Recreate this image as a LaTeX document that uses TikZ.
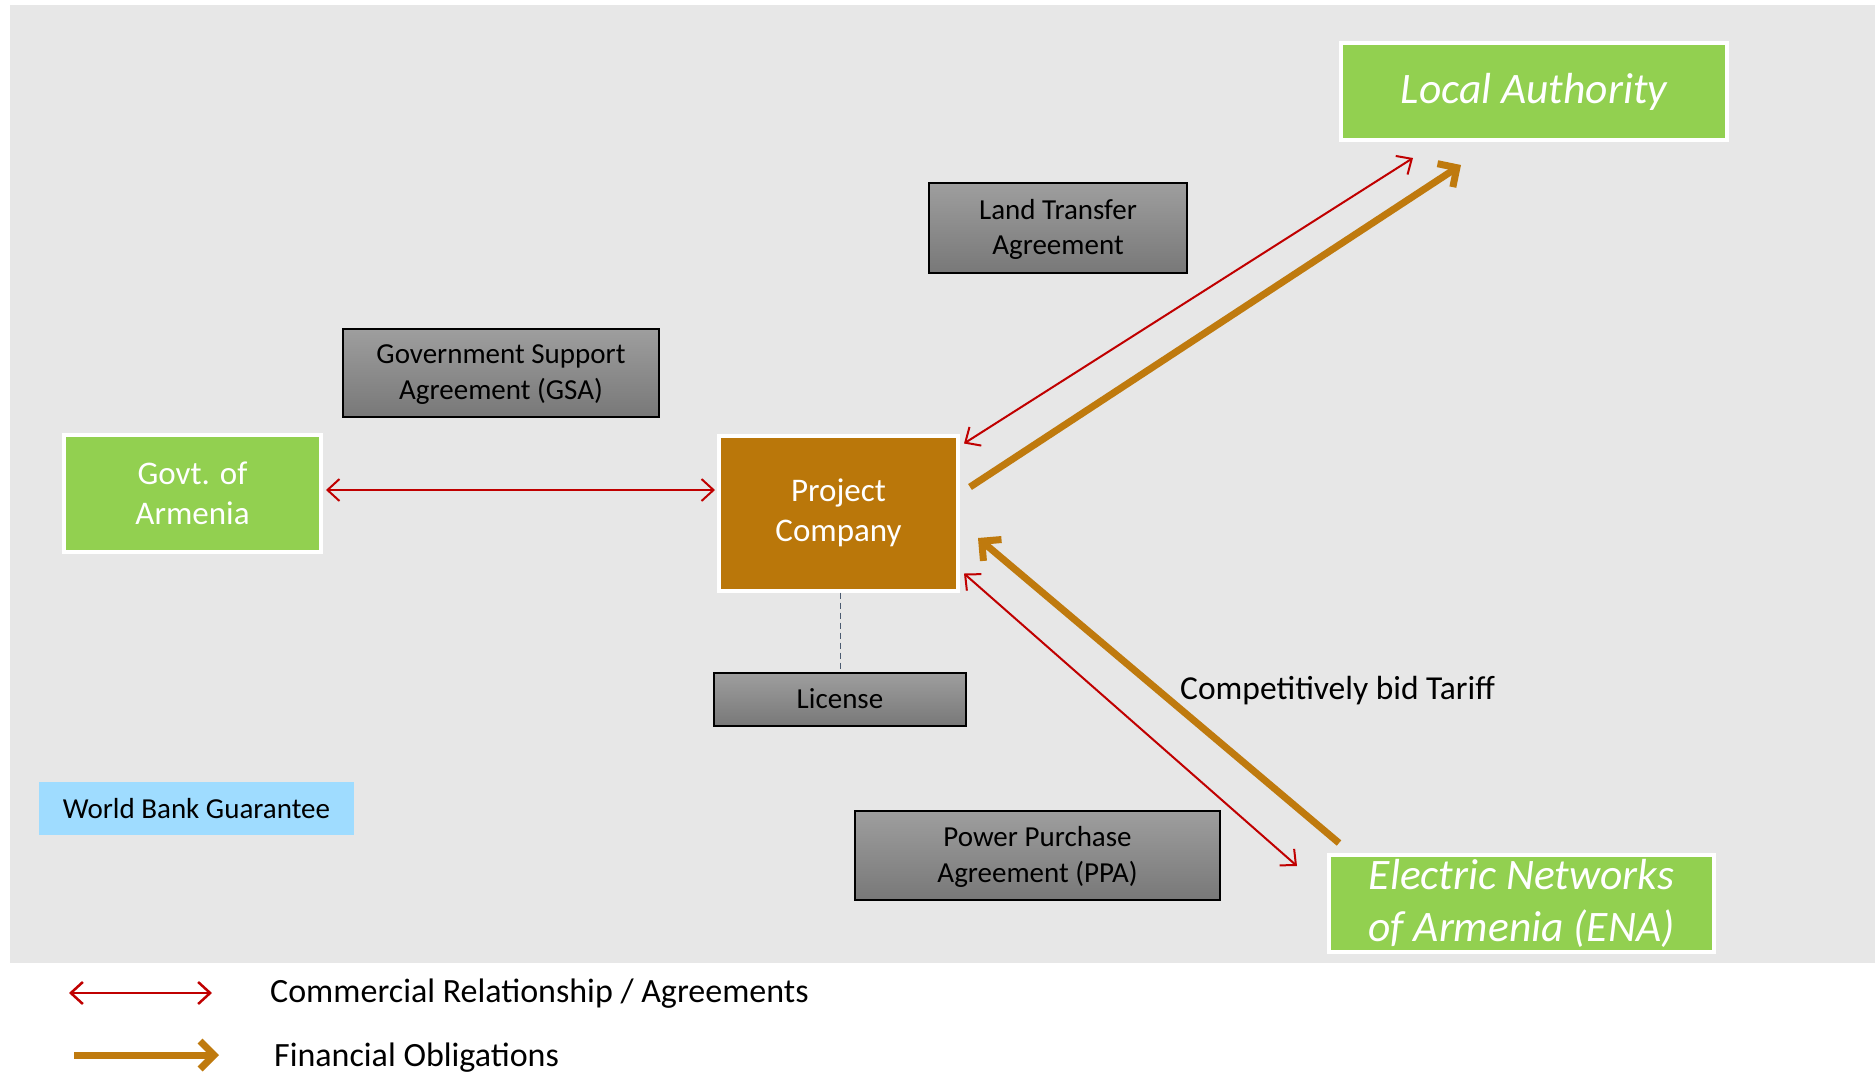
\documentclass[tikz,border=0pt]{standalone}
\usepackage{fontspec}
\setmainfont{Carlito}
\usetikzlibrary{arrows.meta,calc}
\definecolor{bgc}{HTML}{E7E7E7}
\definecolor{grn}{HTML}{92D050}
\definecolor{pcc}{HTML}{BA770A}
\definecolor{arrorange}{HTML}{BF7A0E}
\definecolor{arrred}{HTML}{C00000}
\definecolor{wbblue}{HTML}{9FDCFF}
\definecolor{dashc}{HTML}{4A5A70}
\definecolor{gtop}{HTML}{9E9E9E}
\definecolor{gbot}{HTML}{787878}
\tikzset{
  greenbox/.style={draw=white, line width=4pt, fill=grn, text=white, align=center, inner sep=0pt, font=\fontsize{33}{40}\selectfont},
  bigitalic/.style={font=\fontsize{43.5}{52}\selectfont\itshape},
  graybox/.style={draw=black, line width=1.2pt, top color=gtop, bottom color=gbot, align=center, inner sep=0pt, text depth=2pt, font=\fontsize{29}{35.5}\selectfont},
  redarr/.style={draw=arrred, line width=2pt, {Straight Barb[length=12pt,width=22pt]}-{Straight Barb[length=12pt,width=22pt]}},
  orarr/.style={draw=arrorange, line width=7pt, -{Straight Barb[length=14pt,width=28pt]}},
  plain/.style={inner sep=0pt, anchor=west},
}
\begin{document}
\begin{tikzpicture}[x=1pt,y=-1pt]
\useasboundingbox (0,0) rectangle (1875,1072);
\fill[white] (0,0) rectangle (1875,1072);
\fill[bgc] (10,5) rectangle (1875,963);

\node[greenbox, bigitalic, minimum width=386pt, minimum height=97pt] (la) at (1534,91.5) {Local Authority};
\node[greenbox, minimum width=257pt, minimum height=117pt] (gov) at (192.5,493.5) {Govt. of\\Armenia};
\node[greenbox, fill=pcc, minimum width=239pt, minimum height=155pt] (pc) at (838.5,513) {Project\\Company};
\node[greenbox, bigitalic, minimum width=385pt, minimum height=97pt] (ena) at (1521.5,903.5) {Electric Networks\\of Armenia (ENA)};

\node[graybox, minimum width=258pt, minimum height=90pt] (lta) at (1058,228) {Land Transfer\\Agreement};
\node[graybox, minimum width=316pt, minimum height=88pt] (gsa) at (501,373) {Government Support\\Agreement (GSA)};
\node[graybox, minimum width=252pt, minimum height=53pt] (lic) at (840,699.5) {License};
\node[graybox, minimum width=365pt, minimum height=89pt] (ppa) at (1037.5,855.5) {Power Purchase\\Agreement (PPA)};

\node[fill=wbblue, minimum width=315pt, minimum height=53pt, inner sep=0pt, font=\fontsize{29}{34}\selectfont] (wbg) at (196.5,808.5) {World Bank Guarantee};

\node[plain, font=\fontsize{33.5}{40}\selectfont] (tariff) at (1180,691) {Competitively bid Tariff};

% connectors
\draw[dashc, line width=1pt, dash pattern=on 6pt off 4pt] (pc.south -| lic.north) -- (lic.north);
\draw[redarr] ([yshift=3.5pt, xshift=3pt]gov.east) -- ([yshift=3.5pt, xshift=-2pt]gov.east -| pc.west);
\draw[redarr] ($(pc.north east)+(4,10)$) -- ($(la.south west)+(74,16)$);
\draw[orarr] ($(pc.east)+(10,-26)$) -- ($(la.south west)+(122,23)$);
\draw[redarr] ($(pc.south east)+(4,-19)$) -- ($(ena.north west)+(-30,13)$);
\draw[orarr] ($(ena.north west)+(12,-10)$) -- ($(pc.east)+(18,25)$);

% legend
\coordinate (l1a) at (69,993);
\coordinate (l1b) at (212,993);
\coordinate (l2a) at (74,1055);
\coordinate (l2b) at (219,1055);
\draw[redarr, line width=2.5pt] (l1a) -- (l1b);
\draw[orarr] (l2a) -- (l2b);
\node[plain, font=\fontsize{34}{40}\selectfont] (leg1) at (270,994) {Commercial Relationship / Agreements};
\node[plain, font=\fontsize{34}{40}\selectfont] (leg2) at (274,1058) {Financial Obligations};
\end{tikzpicture}
\end{document}
